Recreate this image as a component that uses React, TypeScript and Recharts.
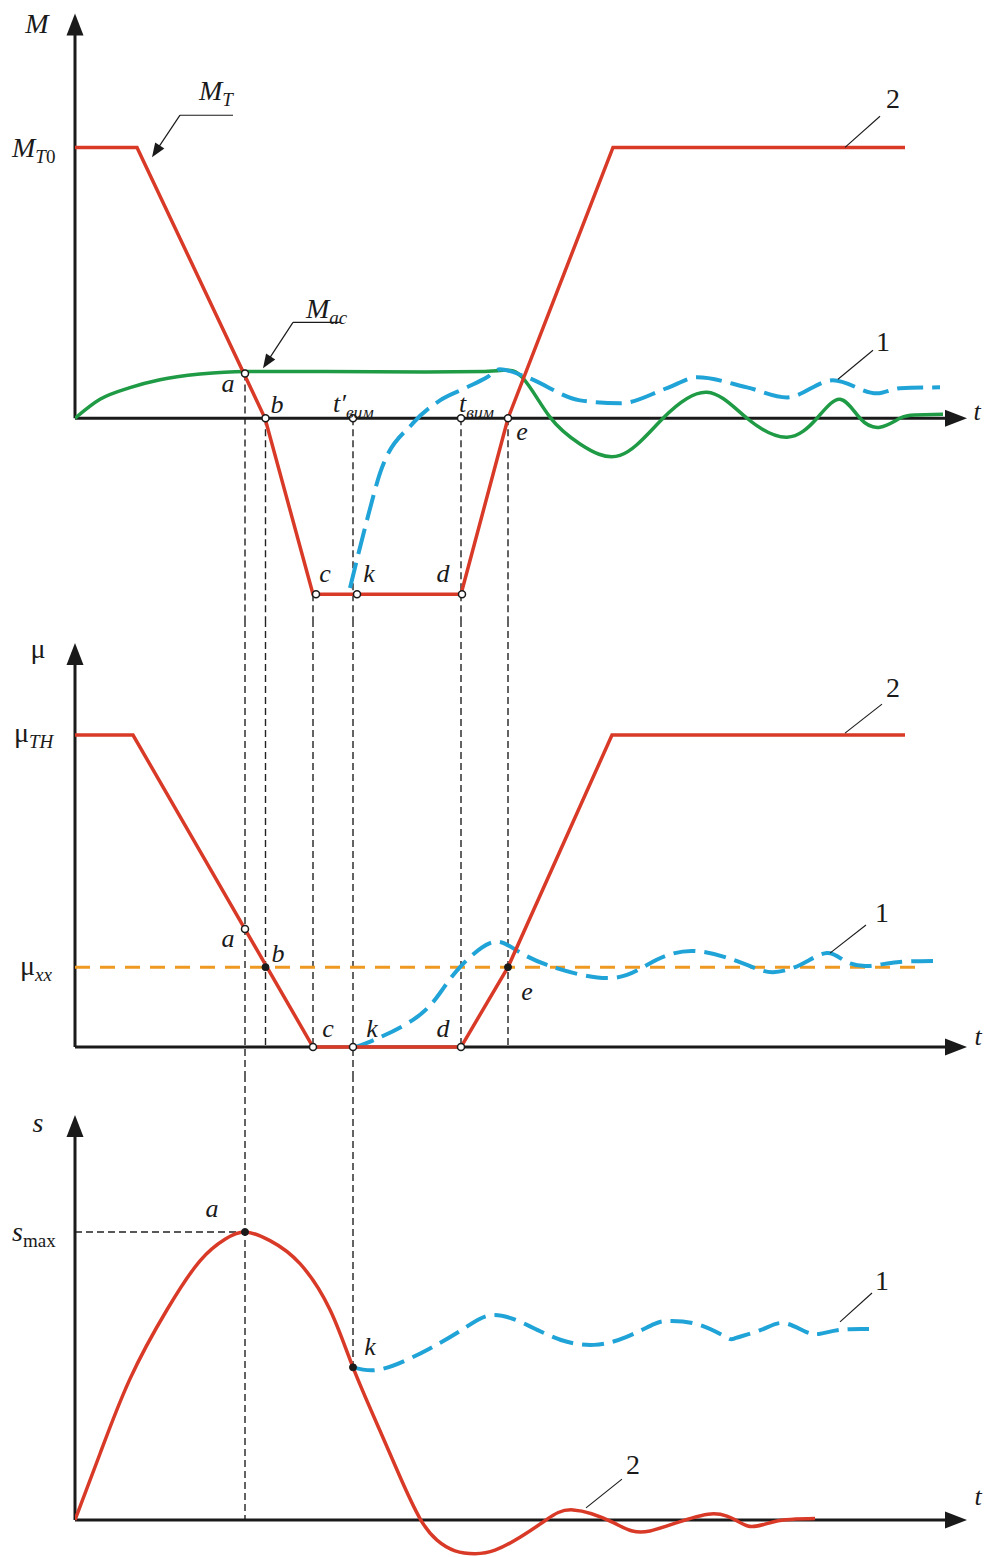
import React from "react";
import {Line, LineChart, ReferenceDot, ReferenceLine, XAxis, YAxis} from "recharts";

// ---- top panel: torque M(t) ----
const torqueT = [0, 6.2, 19, 23.8, 38.6, 43.3, 53.8, 83];
const torqueM = [10, 10, 0, -6.5, -6.5, 0, 10, 10];

// accelerating torque: smooth rise, then damped wave after engagement
const accelRiseT = [0, 2.5, 5.5, 8.5, 12.5, 17, 25, 35, 41, 42.8];
const accelRiseM = [0, 0.7, 1.13, 1.42, 1.63, 1.73, 1.73, 1.71, 1.73, 1.77];
const accelWaveT = [42.8, 44.8, 47.5, 50.5, 54.5, 58.8, 63.2, 67.2, 71.2, 74.2, 76.5, 78.5, 80.5, 82.5, 84, 86.8];
const accelWaveM = [1.77, 1.48, 0.04, -0.95, -1.37, 0, 0.96, 0, -0.7, 0, 0.7, 0, -0.33, 0, 0.12, 0.15];

const engagedT = [27.5, 29.2, 30.5, 33.8, 36.5, 39.2, 41.2, 42.5, 45.2, 50.5, 54.5, 59.2, 62.2, 67.2, 71.2, 75.8, 80.2, 82.5, 86.5];
const engagedM = [-6.27, -3.76, -2.03, -0.18, 0.66, 1.14, 1.51, 1.81, 1.51, 0.66, 0.55, 1.11, 1.51, 1.14, 0.77, 1.4, 0.92, 1.11, 1.14];

// ---- middle panel: friction coefficient mu(t) ----
const muT = [0, 5.8, 23.8, 38.6, 43.3, 53.7, 83];
const muV = [10, 10, 0, 0, 2.56, 10, 10];

const muEngagedT = [27.8, 29.2, 33.8, 36.5, 38.5, 41.5, 43.8, 47.2, 53.2, 57.2, 61.8, 67.2, 69.8, 72.5, 75.2, 77.2, 79.5, 82.2, 85.8];
const muEngagedV = [0, 0.13, 0.87, 1.73, 2.56, 3.33, 3.17, 2.63, 2.21, 2.63, 3.08, 2.63, 2.4, 2.63, 3.01, 2.72, 2.6, 2.72, 2.76];

const MU_XX = 2.56;

// ---- bottom panel: slip s(t) ----
const slipT = [0, 2.5, 5.5, 9.2, 12.5, 15, 17, 19.5, 22.5, 25.5, 27.8, 30.5, 32.5, 34.5, 36.2, 38, 40, 42, 44.5, 47.1, 49.8, 53.9, 57.5, 63.6, 67.2, 70, 74];
const slipV = [0, 2.3, 4.9, 7.3, 9.0, 9.75, 10, 9.7, 8.9, 7.3, 5.3, 3.1, 1.5, 0.05, -0.7, -1.07, -1.17, -1.05, -0.6, 0, 0.35, -0.1, -0.38, 0.21, -0.2, -0.05, 0.05];

const slipEngagedT = [27.8, 30.8, 35.4, 39, 41.9, 45.4, 48.6, 51.9, 55.1, 57.9, 59.4, 62.2, 65.1, 66.1, 68.6, 70.8, 72.9, 74.4, 76.5, 79.4];
const slipEngagedV = [5.3, 5.25, 5.94, 6.67, 7.12, 6.74, 6.25, 6.08, 6.35, 6.8, 6.91, 6.8, 6.35, 6.32, 6.6, 6.84, 6.56, 6.46, 6.6, 6.63];

const S_MAX = 10;
const S_K = 5.3;

// event times
const tA = 17;
const tB = 19.05;
const tC = 23.8;
const tK = 27.8;
const tD = 38.6;
const tE = 43.3;

const RED = "#d93a28";
const GREEN = "#1f9a45";
const BLUE = "#20a3d6";
const ORANGE = "#ee9a22";
const INK = "#1a1a1a";
const FONT = "'Liberation Serif', 'Times New Roman', serif";

const zip = (ts: number[], vs: number[]) => ts.map((t, i) => ({t, v: vs[i]}));

type Part = {s: string; it?: boolean; sub?: boolean};

function MathText({x, y, parts, size = 26, anchor = "middle"}: {x: number; y: number; parts: Part[]; size?: number; anchor?: string}) {
  let down = false;
  return (
    <text x={x} y={y} textAnchor={anchor as any} fontFamily={FONT} fontSize={size} fill={INK}>
      {parts.map((p, i) => {
        let dy = 0;
        if (p.sub && !down) { dy = size * 0.22; down = true; }
        else if (!p.sub && down) { dy = -size * 0.22; down = false; }
        return (
          <tspan key={i} dy={dy} fontStyle={p.it ? "italic" : "normal"} fontSize={p.sub ? size * 0.68 : size}>
            {p.s}
          </tspan>
        );
      })}
    </text>
  );
}

const label = (key: string, t: number, v: number, parts: Part[], anchor = "middle", size = 26) => (
  <ReferenceDot key={key} x={t} y={v} r={0} ifOverflow="visible"
    shape={(p: any) => <MathText x={p.cx} y={p.cy} parts={parts} anchor={anchor} size={size}/>}/>
);

const arrowShape = (len: number, half: number, width: number, color: string) => (p: any) => {
  const {x1, y1, x2, y2} = p;
  const d = Math.hypot(x2 - x1, y2 - y1) || 1;
  const ux = (x2 - x1) / d, uy = (y2 - y1) / d;
  const bx = x2 - ux * len, by = y2 - uy * len;
  const pts = `${x2},${y2} ${bx - uy * half},${by + ux * half} ${bx + uy * half},${by - ux * half}`;
  return (
    <g>
      <line x1={x1} y1={y1} x2={bx + ux * 2} y2={by + uy * 2} stroke={color} strokeWidth={width}/>
      <polygon points={pts} fill={color}/>
    </g>
  );
};

const axisArrow = (key: string, x1: number, y1: number, x2: number, y2: number) => (
  <ReferenceLine key={key} segment={[{x: x1, y: y1}, {x: x2, y: y2}]} ifOverflow="visible"
    shape={arrowShape(22, 8.5, 3, INK)}/>
);

const pointer = (key: string, x1: number, y1: number, x2: number, y2: number) => (
  <ReferenceLine key={key} segment={[{x: x1, y: y1}, {x: x2, y: y2}]} ifOverflow="visible"
    shape={arrowShape(14, 5.5, 1.2, INK)}/>
);

const leader = (key: string, x1: number, y1: number, x2: number, y2: number) => (
  <ReferenceLine key={key} segment={[{x: x1, y: y1}, {x: x2, y: y2}]} ifOverflow="visible"
    stroke={INK} strokeWidth={1.1}/>
);

const guide = (key: string, x1: number, y1: number, x2: number, y2: number) => (
  <ReferenceLine key={key} segment={[{x: x1, y: y1}, {x: x2, y: y2}]} ifOverflow="visible"
    stroke="#222" strokeWidth={1.4} strokeDasharray="7 4"/>
);

const hollow = (key: string, t: number, v: number) => (
  <ReferenceDot key={key} x={t} y={v} r={3.5} fill="#fff" stroke={INK} strokeWidth={1.5} ifOverflow="visible"/>
);

const solid = (key: string, t: number, v: number) => (
  <ReferenceDot key={key} x={t} y={v} r={3.5} fill={INK} stroke={INK} strokeWidth={1} ifOverflow="visible"/>
);

const W = 985;
const MARGIN_X = {left: 75, right: 10};

const TOP_DOMAIN: [number, number] = [-7.45, 15];
const MID_DOMAIN: [number, number] = [-0.897, 13.686];
const BOT_DOMAIN: [number, number] = [-1.285, 15.45];

export default function App() {
  const xAxis = <XAxis type="number" dataKey="t" domain={[0, 90]} allowDataOverflow hide/>;

  return (
    <div style={{position: "absolute", left: 0, top: 0, width: W, height: 1557, background: "#fff"}}>
      {/* M(t) */}
      <div style={{position: "absolute", left: 0, top: 0}}>
        <LineChart width={W} height={620} margin={{top: 12, bottom: 0, ...MARGIN_X}}>
          {xAxis}
          <YAxis type="number" domain={TOP_DOMAIN} allowDataOverflow hide width={0}/>
          {guide("ga", tA, 1.65, tA, TOP_DOMAIN[0])}
          {guide("gb", tB, 0, tB, TOP_DOMAIN[0])}
          {guide("gc", tC, -6.5, tC, TOP_DOMAIN[0])}
          {guide("gk", tK, 0, tK, TOP_DOMAIN[0])}
          {guide("gd", tD, 0, tD, TOP_DOMAIN[0])}
          {guide("ge", tE, 0, tE, TOP_DOMAIN[0])}
          {axisArrow("ay", 0, 0, 0, 14.94)}
          {axisArrow("ax", 0, 0, 89.2, 0)}
          <Line data={zip(accelRiseT, accelRiseM)} dataKey="v" type="monotone" stroke={GREEN} strokeWidth={3.5} dot={false} isAnimationActive={false}/>
          <Line data={zip(accelWaveT, accelWaveM)} dataKey="v" type="natural" stroke={GREEN} strokeWidth={3.5} dot={false} isAnimationActive={false}/>
          <Line data={zip(engagedT, engagedM)} dataKey="v" type="monotone" stroke={BLUE} strokeWidth={4} strokeDasharray="26 9" dot={false} isAnimationActive={false}/>
          <Line data={zip(torqueT, torqueM)} dataKey="v" type="linear" stroke={RED} strokeWidth={3.5} dot={false} isAnimationActive={false}/>
          {leader("lmt", 10.5, 11.19, 15.8, 11.19)}
          {pointer("pmt", 10.5, 11.19, 7.7, 9.64)}
          {leader("lmac", 21.8, 3.54, 26.5, 3.54)}
          {pointer("pmac", 21.8, 3.54, 18.8, 1.85)}
          {leader("l2", 77, 10, 80.5, 11.15)}
          {leader("l1", 76.3, 1.44, 79.8, 2.51)}
          {hollow("da", tA, 1.65)}
          {hollow("db", tB, 0)}
          {hollow("dk0", tK, 0)}
          {hollow("dd0", tD, 0)}
          {hollow("de", tE, 0)}
          {hollow("dc", tC + 0.3, -6.5)}
          {hollow("dk", tK + 0.4, -6.5)}
          {hollow("dd", tD + 0.1, -6.5)}
          {label("M", -3.8, 14.22, [{s: "M", it: true}], "middle", 28)}
          {label("MT0", -6.3, 9.64, [{s: "M", it: true}, {s: "T", it: true, sub: true}, {s: "0", sub: true}], "start", 28)}
          {label("MT", 12.4, 11.74, [{s: "M", it: true}, {s: "T", it: true, sub: true}], "start", 28)}
          {label("Mac", 23.1, 3.69, [{s: "M", it: true}, {s: "ac", it: true, sub: true}], "start", 28)}
          {label("a", 15.3, 0.96, [{s: "a", it: true}])}
          {label("b", 20.2, 0.18, [{s: "b", it: true}])}
          {label("tv1", 25.8, 0.22, [{s: "t′", it: true}, {s: "вим", it: true, sub: true}], "start")}
          {label("tv", 38.4, 0.22, [{s: "t", it: true}, {s: "вим", it: true, sub: true}], "start")}
          {label("e", 44.7, -0.81, [{s: "e", it: true}])}
          {label("c", 25.0, -6.05, [{s: "c", it: true}])}
          {label("k", 29.4, -6.05, [{s: "k", it: true}])}
          {label("d", 36.8, -6.05, [{s: "d", it: true}])}
          {label("t", 90.2, -0.07, [{s: "t", it: true}])}
          {label("n2", 81.8, 11.45, [{s: "2"}], "middle", 28)}
          {label("n1", 80.8, 2.47, [{s: "1"}], "middle", 28)}
        </LineChart>
      </div>

      {/* mu(t) */}
      <div style={{position: "absolute", left: 0, top: 620}}>
        <LineChart width={W} height={455} margin={{top: 0, bottom: 0, ...MARGIN_X}}>
          {xAxis}
          <YAxis type="number" domain={MID_DOMAIN} allowDataOverflow hide width={0}/>
          {guide("ga", tA, MID_DOMAIN[1], tA, MID_DOMAIN[0])}
          {guide("gb", tB, MID_DOMAIN[1], tB, 0)}
          {guide("gc", tC, MID_DOMAIN[1], tC, 0)}
          {guide("gk", tK, MID_DOMAIN[1], tK, MID_DOMAIN[0])}
          {guide("gd", tD, MID_DOMAIN[1], tD, 0)}
          {guide("ge", tE, MID_DOMAIN[1], tE, 0)}
          {axisArrow("ay", 0, 0, 0, 12.95)}
          {axisArrow("ax", 0, 0, 89.2, 0)}
          <ReferenceLine segment={[{x: 0, y: MU_XX}, {x: 85, y: MU_XX}]} stroke={ORANGE} strokeWidth={3} strokeDasharray="15 10"/>
          <Line data={zip(muEngagedT, muEngagedV)} dataKey="v" type="natural" stroke={BLUE} strokeWidth={4} strokeDasharray="22 9" dot={false} isAnimationActive={false}/>
          <Line data={zip(muT, muV)} dataKey="v" type="linear" stroke={RED} strokeWidth={3.5} dot={false} isAnimationActive={false}/>
          {leader("l2", 77, 10.06, 80.7, 10.99)}
          {leader("l1", 75.5, 3.01, 79.1, 3.91)}
          {hollow("da", tA, 3.78)}
          {solid("db", tB, MU_XX)}
          {hollow("dc", tC, 0)}
          {hollow("dk", tK, 0)}
          {hollow("dd", tD, 0)}
          {solid("de", tE, MU_XX)}
          {label("mu", -3.7, 12.47, [{s: "μ"}], "middle", 28)}
          {label("muTH", -6.1, 9.78, [{s: "μ"}, {s: "TH", it: true, sub: true}], "start", 28)}
          {label("muxx", -5.5, 2.31, [{s: "μ"}, {s: "xx", it: true, sub: true}], "start", 28)}
          {label("a", 15.3, 3.2, [{s: "a", it: true}])}
          {label("b", 20.3, 2.72, [{s: "b", it: true}])}
          {label("c", 25.3, 0.32, [{s: "c", it: true}])}
          {label("k", 29.7, 0.32, [{s: "k", it: true}])}
          {label("d", 36.8, 0.32, [{s: "d", it: true}])}
          {label("e", 45.2, 1.51, [{s: "e", it: true}])}
          {label("t", 90.3, 0.06, [{s: "t", it: true}])}
          {label("n2", 81.8, 11.22, [{s: "2"}], "middle", 28)}
          {label("n1", 80.7, 4.0, [{s: "1"}], "middle", 28)}
        </LineChart>
      </div>

      {/* s(t) */}
      <div style={{position: "absolute", left: 0, top: 1075}}>
        <LineChart width={W} height={482} margin={{top: 0, bottom: 0, ...MARGIN_X}}>
          {xAxis}
          <YAxis type="number" domain={BOT_DOMAIN} allowDataOverflow hide width={0}/>
          {guide("ga", tA, BOT_DOMAIN[1], tA, 0)}
          {guide("gk", tK, BOT_DOMAIN[1], tK, S_K)}
          {guide("gs", 0, S_MAX, tA, S_MAX)}
          {axisArrow("ay", 0, 0, 0, 14.06)}
          {axisArrow("ax", 0, 0, 89.2, 0)}
          <Line data={zip(slipEngagedT, slipEngagedV)} dataKey="v" type="natural" stroke={BLUE} strokeWidth={4} strokeDasharray="22 9" dot={false} isAnimationActive={false}/>
          <Line data={zip(slipT, slipV)} dataKey="v" type="natural" stroke={RED} strokeWidth={3.5} dot={false} isAnimationActive={false}/>
          {leader("l1", 76.5, 6.88, 79.7, 7.88)}
          {leader("l2", 51.1, 0.42, 54.7, 1.42)}
          {solid("da", tA, S_MAX)}
          {solid("dk", tK, S_K)}
          {label("s", -3.7, 13.47, [{s: "s", it: true}], "middle", 28)}
          {label("smax", -6.3, 9.69, [{s: "s", it: true}, {s: "max", sub: true}], "start", 28)}
          {label("a", 13.7, 10.52, [{s: "a", it: true}])}
          {label("k", 29.5, 5.73, [{s: "k", it: true}])}
          {label("t", 90.3, 0.52, [{s: "t", it: true}])}
          {label("n1", 80.7, 7.99, [{s: "1"}], "middle", 28)}
          {label("n2", 55.8, 1.6, [{s: "2"}], "middle", 28)}
        </LineChart>
      </div>
    </div>
  );
}
